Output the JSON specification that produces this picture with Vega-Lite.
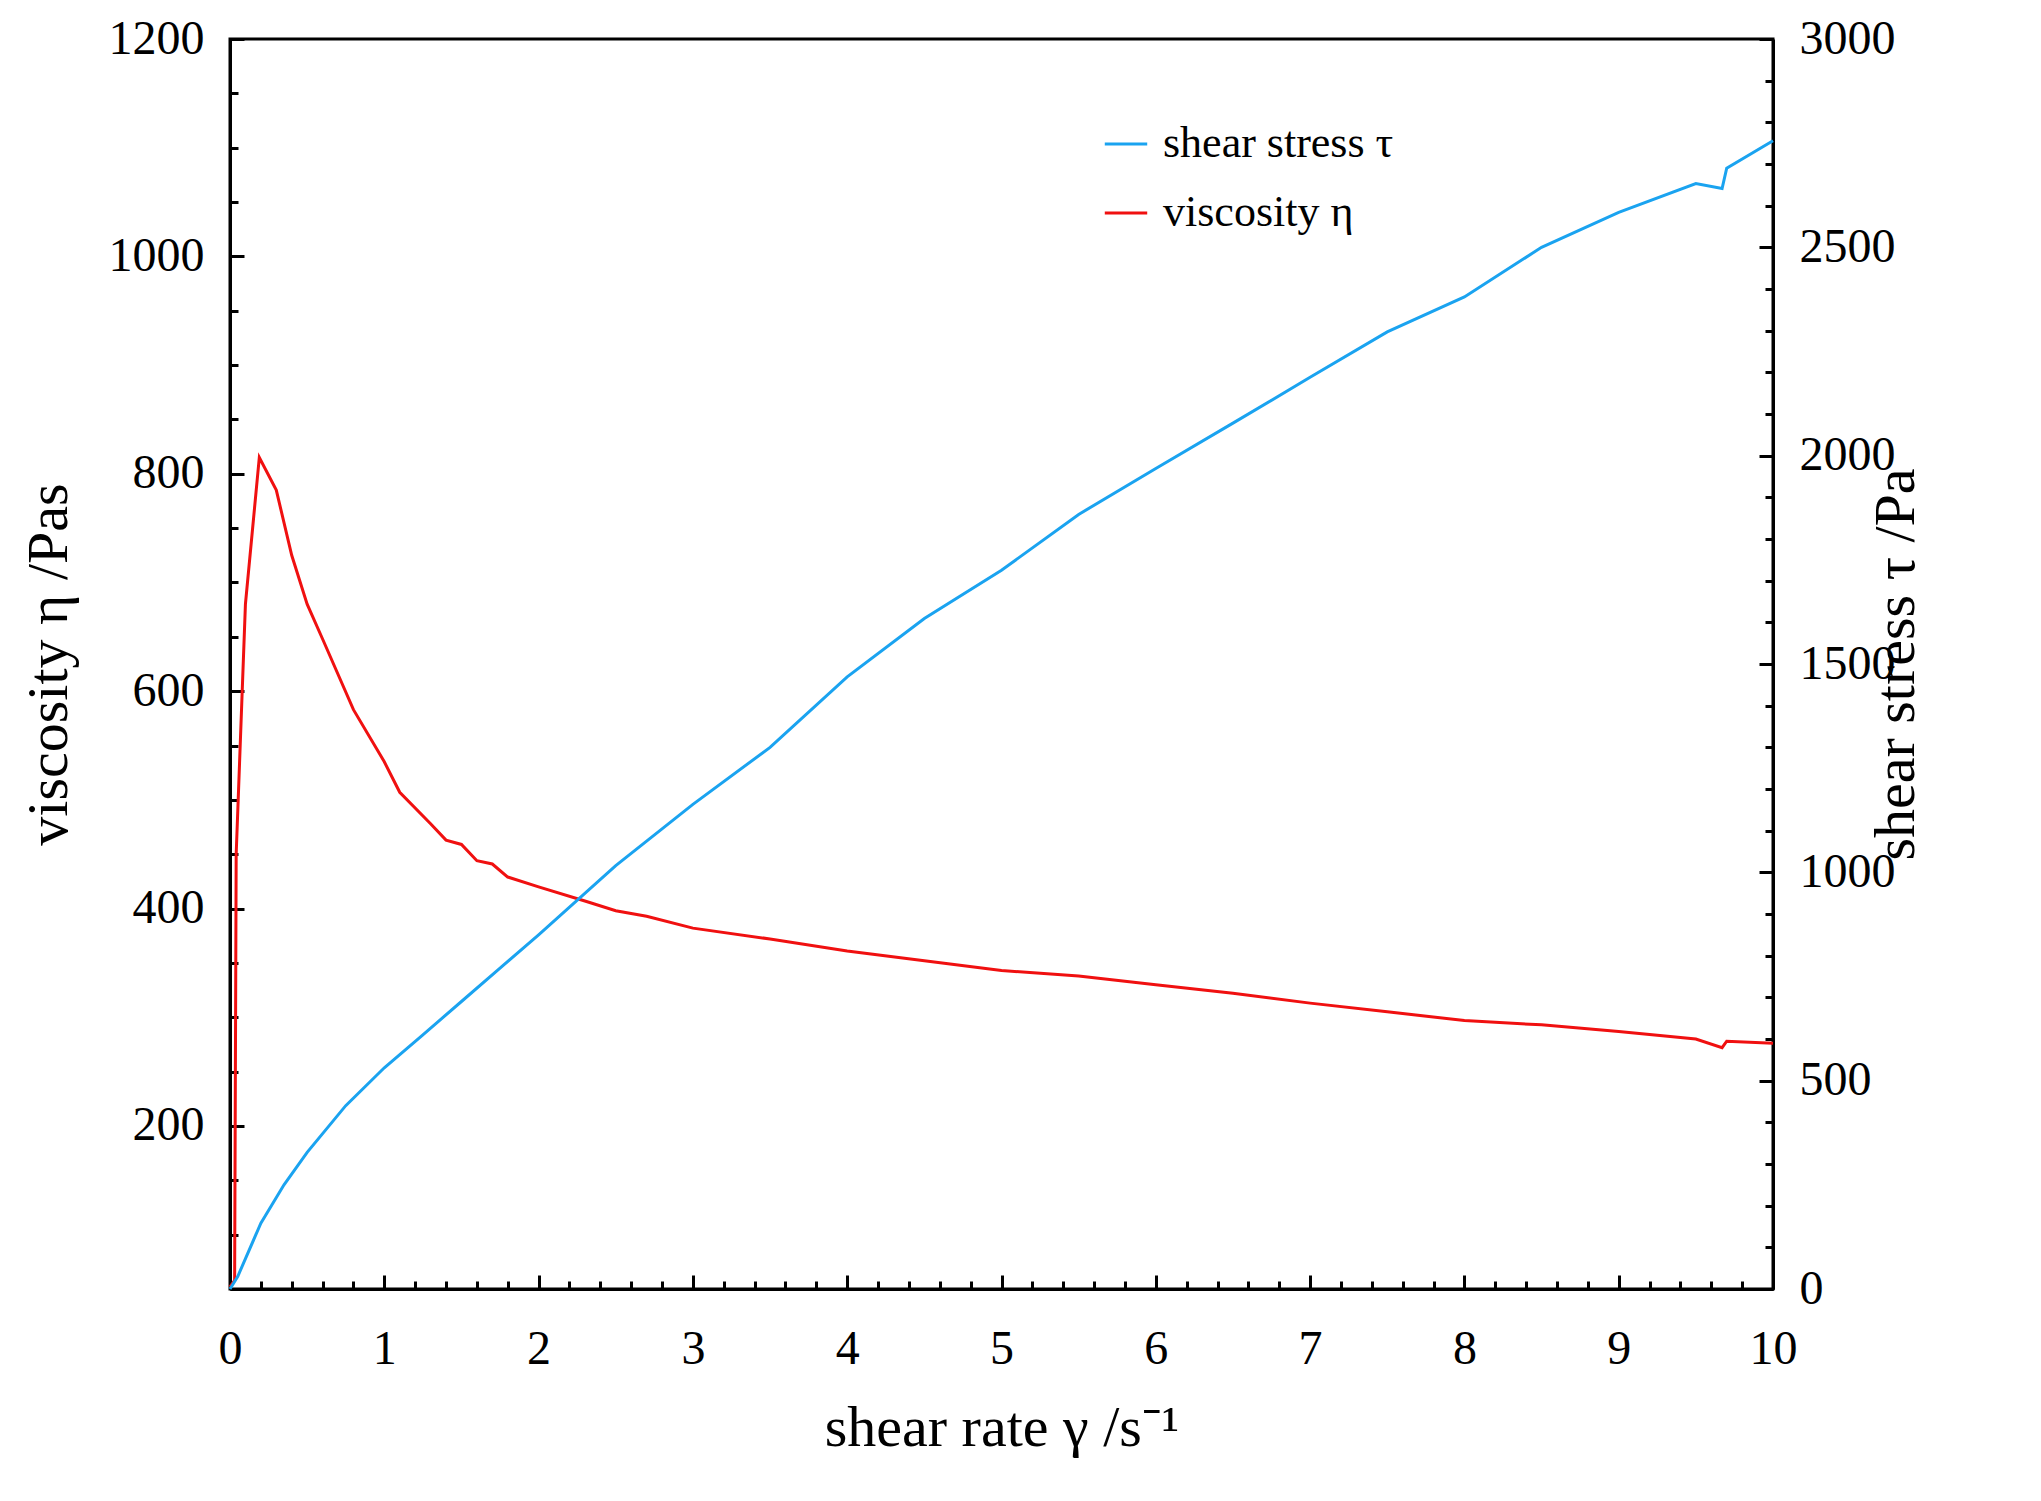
{
  "$schema": "https://vega.github.io/schema/vega-lite/v6.json",
  "width": 1543,
  "height": 1250,
  "autosize": "none",
  "padding": {"left": 230, "top": 39, "right": 268, "bottom": 212},
  "background": "white",
  "config": {
    "view": {"stroke": "black", "strokeWidth": 3},
    "font": "Liberation Serif",
    "axis": {"labelFont": "Liberation Serif", "titleFont": "Liberation Serif", "labelFontSize": 48, "titleFontSize": 58, "titleFontWeight": "normal", "domainColor": "black", "domainWidth": 3, "tickColor": "black", "tickWidth": 3, "labelColor": "black", "titleColor": "black", "grid": false, "labelFlush": false}
  },
  "datasets": {
    "visc": [
      {"x": 0, "v": 52}, {"x": 0.03, "v": 58}, {"x": 0.04, "v": 450}, {"x": 0.1, "v": 680},
      {"x": 0.19, "v": 815}, {"x": 0.3, "v": 785}, {"x": 0.4, "v": 725}, {"x": 0.5, "v": 680},
      {"x": 0.6, "v": 648}, {"x": 0.8, "v": 583}, {"x": 1.0, "v": 535}, {"x": 1.1, "v": 507},
      {"x": 1.3, "v": 478}, {"x": 1.4, "v": 463}, {"x": 1.5, "v": 459}, {"x": 1.6, "v": 444},
      {"x": 1.7, "v": 441}, {"x": 1.8, "v": 429}, {"x": 2.0, "v": 420}, {"x": 2.3, "v": 407},
      {"x": 2.5, "v": 398}, {"x": 2.7, "v": 393}, {"x": 3.0, "v": 382}, {"x": 3.5, "v": 372},
      {"x": 4.0, "v": 361}, {"x": 4.5, "v": 352}, {"x": 5.0, "v": 343}, {"x": 5.5, "v": 338},
      {"x": 6.0, "v": 330}, {"x": 6.5, "v": 322}, {"x": 7.0, "v": 313}, {"x": 7.5, "v": 305},
      {"x": 8.0, "v": 297}, {"x": 8.5, "v": 293}, {"x": 9.0, "v": 287}, {"x": 9.5, "v": 280},
      {"x": 9.67, "v": 272}, {"x": 9.7, "v": 278}, {"x": 10.0, "v": 276}
    ],
    "stress": [
      {"x": 0, "s": 0}, {"x": 0.05, "s": 30}, {"x": 0.2, "s": 158}, {"x": 0.35, "s": 250},
      {"x": 0.5, "s": 328}, {"x": 0.75, "s": 440}, {"x": 1.0, "s": 531}, {"x": 1.25, "s": 610},
      {"x": 1.5, "s": 690}, {"x": 1.75, "s": 770}, {"x": 2.0, "s": 850}, {"x": 2.5, "s": 1016},
      {"x": 3.0, "s": 1163}, {"x": 3.5, "s": 1300}, {"x": 4.0, "s": 1469}, {"x": 4.5, "s": 1609},
      {"x": 5.0, "s": 1725}, {"x": 5.5, "s": 1859}, {"x": 6.0, "s": 1969}, {"x": 6.5, "s": 2078},
      {"x": 7.0, "s": 2188}, {"x": 7.5, "s": 2297}, {"x": 8.0, "s": 2381}, {"x": 8.5, "s": 2500},
      {"x": 9.0, "s": 2584}, {"x": 9.5, "s": 2653}, {"x": 9.67, "s": 2641}, {"x": 9.7, "s": 2690},
      {"x": 10.0, "s": 2756}
    ]
  },
  "encoding": {
    "x": {
      "field": "x", "type": "quantitative",
      "scale": {"domain": [0, 10], "nice": false},
      "axis": {
        "title": "shear rate γ  /s⁻¹", "titlePadding": 26,
        "values": [0,0.2,0.4,0.6,0.8,1,1.2,1.4,1.6,1.8,2,2.2,2.4,2.6,2.8,3,3.2,3.4,3.6,3.8,4,4.2,4.4,4.6,4.8,5,5.2,5.4,5.6,5.8,6,6.2,6.4,6.6,6.8,7,7.2,7.4,7.6,7.8,8,8.2,8.4,8.6,8.8,9,9.2,9.4,9.6,9.8,10],
        "labelExpr": "abs(datum.value - round(datum.value)) < 0.001 ? format(datum.value, 'd') : ''",
        "tickSize": {"condition": {"test": "abs(datum.value - round(datum.value)) < 0.001", "value": -14}, "value": -8},
        "labelPadding": 50
      }
    }
  },
  "layer": [
    {
      "data": {"name": "visc"},
      "mark": {"type": "line", "strokeWidth": 3},
      "encoding": {
        "y": {
          "field": "v", "type": "quantitative",
          "scale": {"domain": [50, 1200], "nice": false, "zero": false},
          "axis": {
            "title": "viscosity η  /Pas", "orient": "left", "titlePadding": 30,
            "values": [50,100,150,200,250,300,350,400,450,500,550,600,650,700,750,800,850,900,950,1000,1050,1100,1150,1200],
            "labelExpr": "datum.value % 200 === 0 ? datum.value : ''",
            "tickSize": {"condition": {"test": "datum.value % 200 === 0", "value": -14}, "value": -8},
            "labelPadding": 40
          }
        },
        "color": {
          "datum": "viscosity η",
          "scale": {"domain": ["shear stress τ", "viscosity η"], "range": ["#1aa3f0", "#f01010"]},
          "legend": {
            "title": null, "orient": "none", "legendX": 873, "legendY": 82,
            "symbolType": "stroke", "symbolSize": 1800, "symbolStrokeWidth": 3,
            "labelFont": "Liberation Serif", "labelFontSize": 44, "labelColor": "black",
            "labelLimit": 600, "rowPadding": 24, "labelOffset": 14
          }
        }
      }
    },
    {
      "data": {"name": "stress"},
      "mark": {"type": "line", "strokeWidth": 3},
      "encoding": {
        "y": {
          "field": "s", "type": "quantitative",
          "scale": {"domain": [0, 3000], "nice": false},
          "axis": {
            "title": "shear stress τ  /Pa", "orient": "right", "titlePadding": 30, "titleAngle": 270,
            "values": [0,100,200,300,400,500,600,700,800,900,1000,1100,1200,1300,1400,1500,1600,1700,1800,1900,2000,2100,2200,2300,2400,2500,2600,2700,2800,2900,3000],
            "labelExpr": "datum.value % 500 === 0 ? datum.value : ''",
            "tickSize": {"condition": {"test": "datum.value % 500 === 0", "value": -14}, "value": -8},
            "labelPadding": 40
          }
        },
        "color": {"datum": "shear stress τ"}
      }
    }
  ],
  "resolve": {"scale": {"y": "independent"}}
}
